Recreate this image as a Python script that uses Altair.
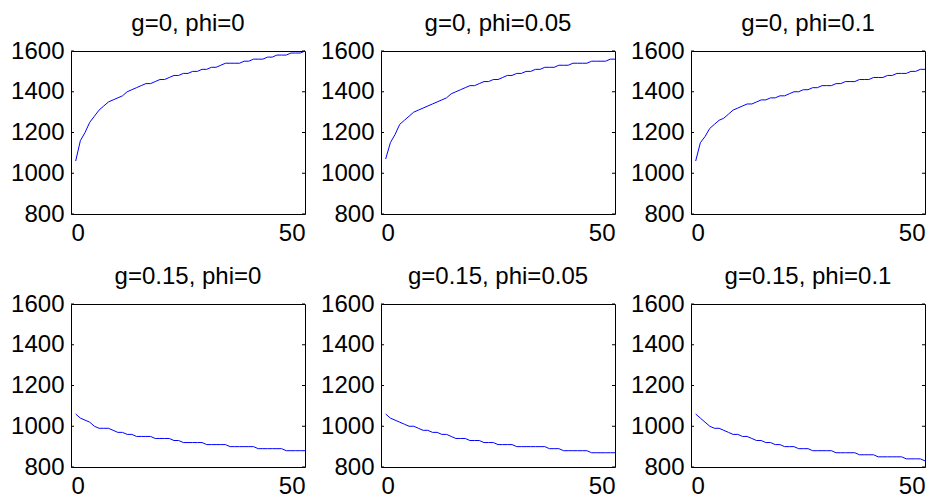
import altair as alt
import pandas as pd

steps = list(range(1, 51))

titles = [
    "g=0, phi=0", "g=0, phi=0.05", "g=0, phi=0.1",
    "g=0.15, phi=0", "g=0.15, phi=0.05", "g=0.15, phi=0.1",
]

s_g0_p0 = [1060, 1160, 1200, 1250, 1280, 1310, 1330, 1350, 1360, 1370,
           1380, 1400, 1410, 1420, 1430, 1440, 1440, 1450, 1460, 1460,
           1470, 1480, 1480, 1490, 1490, 1500, 1500, 1510, 1510, 1520,
           1520, 1530, 1540, 1540, 1540, 1540, 1550, 1550, 1560, 1560,
           1560, 1570, 1570, 1580, 1580, 1580, 1590, 1590, 1590, 1600]

s_g0_p05 = [1070, 1150, 1190, 1240, 1260, 1280, 1300, 1310, 1320, 1330,
            1340, 1350, 1360, 1370, 1390, 1400, 1410, 1420, 1430, 1430,
            1440, 1450, 1450, 1460, 1460, 1470, 1480, 1480, 1490, 1490,
            1500, 1500, 1510, 1510, 1520, 1520, 1520, 1530, 1530, 1530,
            1540, 1540, 1540, 1540, 1550, 1550, 1550, 1550, 1560, 1560]

s_g0_p1 = [1060, 1150, 1180, 1220, 1240, 1260, 1270, 1290, 1310, 1320,
           1330, 1340, 1340, 1350, 1360, 1360, 1370, 1370, 1380, 1380,
           1390, 1400, 1400, 1410, 1410, 1420, 1420, 1430, 1430, 1430,
           1440, 1440, 1450, 1450, 1450, 1460, 1460, 1460, 1470, 1470,
           1470, 1480, 1480, 1490, 1490, 1490, 1500, 1500, 1510, 1510]

s_g15_p0 = [1060, 1040, 1030, 1020, 1000, 990, 990, 990, 980, 970,
            970, 960, 960, 950, 950, 950, 950, 940, 940, 940,
            940, 930, 930, 920, 920, 920, 920, 920, 910, 910,
            910, 910, 910, 900, 900, 900, 900, 900, 900, 890,
            890, 890, 890, 890, 890, 880, 880, 880, 880, 880]

s_g15_p05 = [1060, 1040, 1030, 1020, 1010, 1000, 1000, 990, 980, 980,
             970, 970, 960, 960, 950, 940, 940, 940, 930, 930,
             930, 920, 920, 920, 910, 910, 910, 910, 900, 900,
             900, 900, 900, 900, 900, 890, 890, 890, 880, 880,
             880, 880, 880, 880, 870, 870, 870, 870, 870, 870]

s_g15_p1 = [1060, 1040, 1020, 1000, 990, 990, 980, 970, 960, 960,
            950, 950, 940, 930, 930, 920, 920, 910, 910, 900,
            900, 900, 890, 890, 890, 880, 880, 880, 880, 880,
            870, 870, 870, 870, 870, 860, 860, 860, 860, 850,
            850, 850, 850, 850, 850, 840, 840, 840, 840, 830]

series = [s_g0_p0, s_g0_p05, s_g0_p1, s_g15_p0, s_g15_p05, s_g15_p1]

y_ticks = [800, 1000, 1200, 1400, 1600]
x_ticks = [0, 50]

W, H = 234, 163
FONT = "Liberation Sans"


def panel(title, vals):
    df = pd.DataFrame({"t": steps, "v": vals})
    yenc = alt.Y(
        "v:Q",
        scale=alt.Scale(domain=[800, 1600], nice=False, zero=False),
        axis=alt.Axis(values=y_ticks, title=None, format="d", labelPadding=7),
    )
    line = alt.Chart(df).mark_line(color="#0000ff", strokeWidth=1).encode(
        x=alt.X(
            "t:Q",
            scale=alt.Scale(domain=[0, 50], nice=False, zero=False),
            axis=alt.Axis(values=x_ticks, title=None, format="d", labelPadding=7),
        ),
        y=yenc,
    )
    tdf = pd.DataFrame({"v": y_ticks})
    left_ticks = alt.Chart(tdf).mark_rule(color="black", strokeWidth=1).encode(
        y=yenc, x=alt.value(0), x2=alt.value(3)
    )
    right_ticks = alt.Chart(tdf).mark_rule(color="black", strokeWidth=1).encode(
        y=yenc, x=alt.value(W - 3), x2=alt.value(W)
    )
    return alt.layer(line, left_ticks, right_ticks).properties(
        width=W, height=H, title=alt.TitleParams(title, offset=3)
    )


panels = [panel(t, s) for t, s in zip(titles, series)]

chart = alt.ConcatChart(
    concat=panels, columns=3, spacing={"row": 90, "column": 76}, bounds="flush"
).properties(
    padding={"left": 10, "top": 11, "right": 2, "bottom": 0},
    background="white",
).configure_view(
    stroke="black", strokeWidth=1
).configure_axis(
    domain=False, ticks=False, grid=False,
    labelFont=FONT, labelFontSize=24, labelColor="black",
).configure_title(
    font=FONT, fontSize=24, fontWeight="normal", color="black", anchor="middle"
)

chart.save("out.html", embed_options={"renderer": "svg", "actions": False})
